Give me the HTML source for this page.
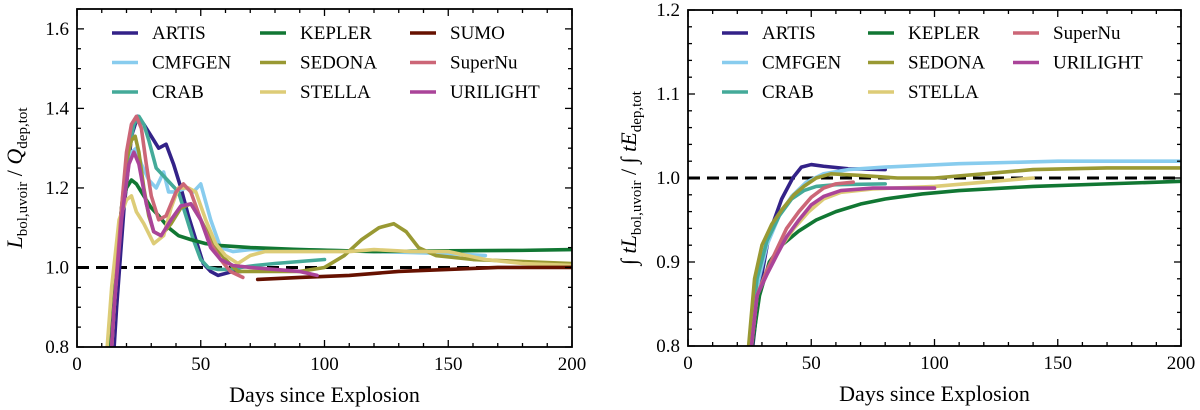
<!DOCTYPE html>
<html><head><meta charset="utf-8"><style>
body{margin:0;background:#fff}
svg{display:block;font-family:"Liberation Serif",serif}
</style></head><body>
<svg id="c" width="1200" height="410" viewBox="0 0 1200 410"></svg>
<script>
const names=["ARTIS","CMFGEN","CRAB","KEPLER","SEDONA","STELLA","SUMO","SuperNu","URILIGHT"];
const colors={ARTIS:"#332288",CMFGEN:"#88CCEE",CRAB:"#44AA99",KEPLER:"#117733",SEDONA:"#999933",STELLA:"#DDCC77",SUMO:"#661100",SuperNu:"#CC6677",URILIGHT:"#AA4499"};
const xTicks=[0,50,100,150,200];
const leftYTicks=[0.8,1.0,1.2,1.4,1.6];
const rightYTicks=[0.8,0.9,1.0,1.1,1.2];
const leftData={
ARTIS:[[13,0.6],[16,0.9],[19,1.15],[22,1.33],[24.5,1.38],[27,1.36],[30,1.33],[33,1.30],[36,1.31],[39,1.26],[42,1.2],[45,1.13],[48,1.07],[51,1.01],[54,0.99],[57,0.98],[60,0.985],[63,0.99],[66,0.99]],
CMFGEN:[[12,0.6],[15,0.9],[18,1.15],[20,1.25],[22,1.29],[24,1.30],[26,1.26],[29,1.22],[32,1.2],[35,1.24],[37,1.19],[40,1.19],[44,1.2],[47,1.19],[50,1.21],[54,1.12],[58,1.05],[63,1.04],[70,1.045],[90,1.045],[120,1.04],[150,1.035],[165,1.03]],
CRAB:[[12,0.6],[15,0.9],[18,1.15],[21,1.30],[23,1.36],[25,1.38],[27,1.36],[29,1.32],[32,1.25],[35,1.23],[38,1.21],[41,1.19],[44,1.13],[47,1.07],[50,1.02],[53,1.0],[57,0.995],[62,0.995],[66,1.0],[72,1.005],[80,1.01],[90,1.015],[100,1.02]],
KEPLER:[[12,0.7],[15,0.95],[18,1.15],[20,1.2],[22,1.22],[24,1.21],[27,1.18],[30,1.15],[33,1.13],[37,1.1],[41,1.08],[46,1.07],[52,1.06],[58,1.055],[70,1.05],[90,1.045],[120,1.04],[150,1.042],[180,1.043],[200,1.045]],
SEDONA:[[12,0.6],[15,0.9],[18,1.15],[20,1.27],[22,1.32],[23.5,1.33],[25,1.29],[27,1.2],[29,1.13],[31,1.09],[34,1.08],[38,1.11],[42,1.15],[46,1.16],[50,1.12],[55,1.06],[60,1.02],[65,0.99],[75,0.99],[90,0.99],[100,1.0],[108,1.03],[115,1.07],[122,1.1],[128,1.11],[133,1.09],[138,1.05],[145,1.03],[160,1.02],[180,1.015],[200,1.01]],
STELLA:[[11,0.7],[14,0.95],[17,1.12],[20,1.17],[22,1.18],[24,1.14],[27,1.11],[31,1.06],[35,1.08],[38,1.15],[41,1.2],[45,1.2],[48,1.19],[52,1.12],[56,1.06],[60,1.03],[65,1.01],[70,1.03],[76,1.04],[90,1.04],[110,1.04],[120,1.045],[135,1.04],[150,1.04],[165,1.02],[180,1.01],[200,1.005]],
SUMO:[[73,0.97],[90,0.975],[110,0.98],[130,0.99],[150,0.995],[170,1.0],[200,1.0]],
SuperNu:[[12,0.6],[15,0.9],[18,1.15],[20,1.29],[22,1.36],[24,1.38],[26,1.35],[28,1.26],[30,1.18],[33,1.12],[36,1.13],[40,1.19],[43,1.21],[46,1.19],[50,1.12],[54,1.06],[58,1.02],[62,0.99],[67,0.975]],
URILIGHT:[[12,0.6],[15,0.9],[18,1.12],[21,1.26],[23,1.29],[25,1.26],[28,1.16],[31,1.09],[34,1.08],[38,1.12],[42,1.155],[46,1.16],[50,1.12],[54,1.05],[58,1.02],[63,1.005],[70,1.0],[80,0.995],[90,0.99],[97,0.98]]
};
const rightData={
ARTIS:[[25.5,0.78],[29,0.87],[33,0.934],[38,0.975],[42.5,1.0],[46,1.013],[50,1.016],[55,1.014],[65,1.011],[80,1.01]],
CMFGEN:[[24.5,0.78],[28,0.87],[32,0.92],[37,0.955],[42,0.978],[48,0.995],[55,1.005],[65,1.01],[80,1.013],[110,1.017],[150,1.02],[200,1.02]],
CRAB:[[24.5,0.78],[28,0.88],[32,0.925],[37,0.955],[42,0.975],[47,0.985],[52,0.99],[60,0.992],[80,0.993]],
KEPLER:[[25,0.78],[29,0.86],[33,0.9],[38,0.92],[45,0.937],[52,0.95],[60,0.96],[70,0.969],[80,0.975],[95,0.981],[110,0.985],[140,0.99],[170,0.993],[200,0.996]],
SEDONA:[[24,0.78],[27,0.88],[30,0.92],[34,0.945],[38,0.962],[43,0.98],[47,0.99],[52,1.0],[58,1.005],[70,1.003],[85,1.0],[100,1.0],[120,1.005],[140,1.01],[170,1.012],[200,1.012]],
STELLA:[[25,0.78],[28,0.86],[32,0.89],[37,0.915],[43,0.94],[49,0.96],[55,0.975],[62,0.983],[75,0.987],[100,0.99],[120,0.995],[140,1.0]],
SuperNu:[[25,0.78],[28,0.86],[32,0.89],[36,0.915],[40,0.94],[45,0.96],[50,0.977],[55,0.988],[60,0.993],[67,0.995]],
URILIGHT:[[25,0.78],[28,0.86],[32,0.885],[36,0.908],[40,0.93],[45,0.95],[50,0.968],[55,0.978],[62,0.985],[75,0.988],[100,0.988]]
};
const svg=document.getElementById('c');
const NS="http://www.w3.org/2000/svg";
function mk(tag,attrs,parent){const e=document.createElementNS(NS,tag);for(const k in attrs)e.setAttribute(k,attrs[k]);(parent||svg).appendChild(e);return e;}
function panel(id,L,R,T,B,ymin,ymax,yTicks,yMinor,data,legendOrder,legendCols,yLabelHTML,ylabX){
  const X=v=>L+(v-0)/200*(R-L), Y=v=>B-(v-ymin)/(ymax-ymin)*(B-T);
  const g=mk('g',{});
  
  
  const cp=mk('clipPath',{id:id+'clip'},g);mk('rect',{x:L,y:T,width:R-L,height:B-T},cp);
  const lines=mk('g',{'clip-path':'url(#'+id+'clip)'},g);
  const ref=mk('line',{x1:L,x2:R,y1:Y(1),y2:Y(1),stroke:'#000','stroke-width':3,'stroke-dasharray':'12,7'},lines);
  
  
  for(const n of Object.keys(data)){
    const p=mk('polyline',{points:data[n].map(d=>X(d[0])+','+Y(d[1])).join(' '),fill:'none',stroke:colors[n],'stroke-width':3.6,'stroke-linejoin':'round','stroke-linecap':'round'},lines);
    
    
  }
  mk('rect',{x:L,y:T,width:R-L,height:B-T,fill:'none',stroke:'#000','stroke-width':1.8},g);
  for(let v=0;v<=200;v+=10){const maj=v%50===0,l=maj?7:4;
    mk('line',{x1:X(v),x2:X(v),y1:B,y2:B-l,stroke:'#000','stroke-width':1.3},g);
    mk('line',{x1:X(v),x2:X(v),y1:T,y2:T+l,stroke:'#000','stroke-width':1.3},g);}
  for(let v=ymin;v<=ymax+1e-9;v+=yMinor){const maj=yTicks.some(t=>Math.abs(t-v)<1e-6),l=maj?7:4;
    mk('line',{x1:L,x2:L+l,y1:Y(v),y2:Y(v),stroke:'#000','stroke-width':1.3},g);
    mk('line',{x1:R,x2:R-l,y1:Y(v),y2:Y(v),stroke:'#000','stroke-width':1.3},g);}
  xTicks.forEach(v=>{const t=mk('text',{x:X(v),y:B+23,'text-anchor':'middle','font-size':19},g);t.textContent=v;
    });
  yTicks.forEach(v=>{const t=mk('text',{x:L-8,y:Y(v)+6,'text-anchor':'end','font-size':19},g);t.textContent=v.toFixed(1);
    });
  const xt=mk('text',{x:(L+R)/2,y:B+55,'text-anchor':'middle','font-size':22},g);xt.textContent='Days since Explosion';
  
  const yt=mk('text',{x:0,y:0,'text-anchor':'middle','font-size':22,transform:'translate('+ylabX+','+((T+B)/2)+') rotate(-90)'},g);
  yt.innerHTML=yLabelHTML;
  
  legendOrder.forEach((n,i)=>{const c=Math.floor(i/3),r=i%3;const lx=legendCols[c],ly=33+r*29.5;
    const lg=mk('g',{},g);
    
    
    mk('line',{x1:lx,x2:lx+26,y1:ly,y2:ly,stroke:colors[n],'stroke-width':3.6},lg);
    const t=mk('text',{x:lx+40,y:ly+6,'font-size':19},lg);t.textContent=n;});
}
panel('left',77,572,9,347,0.8,1.65,leftYTicks,0.05,leftData,names,[112,260,410],
 '<tspan font-style="italic">L</tspan><tspan font-size="15" dy="5">bol,uvoir</tspan><tspan dy="-5"> / </tspan><tspan font-style="italic">Q</tspan><tspan font-size="15" dy="5">dep,tot</tspan>',22);
panel('right',688,1181,10,346,0.8,1.2,rightYTicks,0.02,rightData,["ARTIS","CMFGEN","CRAB","KEPLER","SEDONA","STELLA","SuperNu","URILIGHT"],[722,868,1013],
 '∫ <tspan font-style="italic">tL</tspan><tspan font-size="15" dy="5">bol,uvoir</tspan><tspan dy="-5"> / ∫ </tspan><tspan font-style="italic">tE</tspan><tspan font-size="15" dy="5">dep,tot</tspan>',636);
</script>
</body></html>
